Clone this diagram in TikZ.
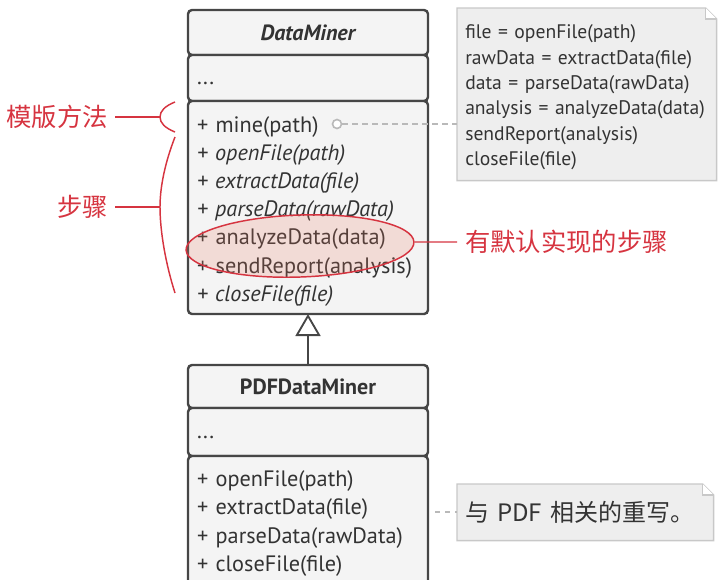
\documentclass[tikz,border=0pt]{standalone}
\usepackage{fontspec}
\setmainfont{PT Sans}
\newfontfamily\cjk{Noto Sans CJK SC}
\usetikzlibrary{positioning,calc,shapes.geometric,arrows.meta,backgrounds}
\definecolor{boxfill}{RGB}{244,244,244}
\definecolor{boxline}{RGB}{70,70,70}
\definecolor{txt}{RGB}{51,51,51}
\definecolor{notefill}{RGB}{238,238,238}
\definecolor{noteline}{RGB}{200,200,200}
\definecolor{linkgray}{RGB}{185,185,185}
\definecolor{annot}{RGB}{214,52,64}
\definecolor{hilitefill}{RGB}{235,120,95}
\tikzset{
  section/.style={draw=boxline, fill=boxfill, line width=1.8pt, rounded corners=3pt,
    minimum width=180pt, text=txt, inner xsep=6.75pt, inner ysep=0pt, outer sep=0pt},
  headsec/.style={section, font=\fontsize{16.5}{18}\selectfont\bfseries},
  listsec/.style={section, text width=166.5pt, align=left, font=\fontsize{16.7}{21.15}\selectfont},
  notebox/.style={fill=notefill, draw=noteline, line width=1.1pt},
  notetext/.style={text=txt, inner xsep=6pt, inner ysep=0pt, anchor=north west, align=left},
  notelink/.style={draw=linkgray, line width=1.2pt, dash pattern=on 4pt off 3.5pt},
  inherit/.style={draw=boxline, line width=1.4pt, -{Triangle[open, width=18.75pt, length=16.5pt]}},
  annotlabel/.style={text=annot, font=\fontsize{19}{21}\cjk, inner ysep=0pt, inner xsep=5.25pt},
  annotline/.style={draw=annot, line width=1.1pt},
  hilite/.style={ellipse, draw=annot, fill=hilitefill, fill opacity=0.2, draw opacity=1, line width=1.1pt, inner sep=0pt}
}
\newcommand{\attrdots}{\raisebox{-5pt}[0pt][0pt]{...}}

\begin{document}
\begin{tikzpicture}[x=0.75pt, y=-0.75pt]
    \path[use as bounding box, clip] (0,0) rectangle (723,579);

    % DATAMINER
    \node[headsec, minimum height=33.75pt] (dmHead) at (308,32.5) {\itshape DataMiner};
    \node[listsec, below=0pt of dmHead, minimum height=34.5pt] (dmAttr) {\attrdots};
    \node[listsec, below=0pt of dmAttr, minimum height=159.75pt] (dmMethods) {\rule{0pt}{17.5pt}+ mine(path)\\
      \textit{+ openFile(path)}\\
      \textit{+ extractData(file)}\\
      \textit{+ parseData(rawData)}\\
      + analyzeData(data)\\
      + sendReport(analysis)\\
      \textit{+ closeFile(file)}};

    % PDFDATAMINER
    \node[headsec, minimum height=32.25pt] (pdfHead) at (308,386.5) {PDFDataMiner};
    \node[listsec, below=0pt of pdfHead, minimum height=36pt] (pdfAttr) {\attrdots};
    \node[listsec, below=0pt of pdfAttr, minimum height=101.25pt] (pdfMethods) {+ openFile(path)\\
      + extractData(file)\\
      + parseData(rawData)\\
      + closeFile(file)};
    \draw[inherit] (pdfHead) -- (dmMethods);

    % NOTES
    \node[notetext, minimum width=194.25pt, minimum height=129pt, text width=182.25pt,
      font=\fontsize{14.7}{19.05}\selectfont] (dmNote) at (457,8) {\rule{0pt}{15pt}file = openFile(path)\\
      rawData = extractData(file)\\
      data = parseData(rawData)\\
      analysis = analyzeData(data)\\
      sendReport(analysis)\\
      closeFile(file)};
    \node[notetext, minimum width=192pt, minimum height=42pt, text width=180pt,
      font=\fontsize{18}{20}\cjk] (pdfNote) at (457,484) {与 PDF 相关的重写。};
    \begin{scope}[on background layer]
      \foreach \n in {dmNote, pdfNote} {
        \path[notebox] (\n.north west) -- ($(\n.north east)+(-11,0)$) -- ($(\n.north east)+(0,11)$)
          -- (\n.south east) -- (\n.south west) -- cycle;
        \path[notebox, fill=white] ($(\n.north east)+(-11,0)$) -- ($(\n.north east)+(-11,11)$)
          -- ($(\n.north east)+(0,11)$);
      }
    \end{scope}

    \node[circle, draw=linkgray, line width=1.2pt, fill=white, minimum size=6.75pt, inner sep=0pt] (mineDot) at (337,124) {};
    \draw[notelink] (mineDot) -- (mineDot -| dmNote.west);
    \coordinate (pdfLinkEnd) at (435,512);
    \draw[notelink] (pdfLinkEnd) -- (pdfLinkEnd -| pdfNote.west);

    % ANNOTATIONS
    \node[annotlabel, anchor=east] (tplLabel) at (115,117) {模版方法};
    \coordinate (tplTip) at (160,117);
    \draw[annotline] (tplLabel.east) -- (tplTip);
    \draw[annotline] (175,102) .. controls (165,106) and (160,111) .. (tplTip)
      .. controls (160,123) and (165,128) .. (175,132);

    \node[annotlabel, anchor=east] (stepLabel) at (115,207) {步骤};
    \coordinate (stepTip) at (160,207);
    \draw[annotline] (stepLabel.east) -- (stepTip);
    \draw[annotline] (175,137) .. controls (166,160) and (160,185) .. (stepTip)
      .. controls (160,232) and (166,265) .. (175,293);

    \node[hilite, minimum width=171pt, minimum height=46.5pt, rotate=2] (defaultHl) at (300,246) {};
    \node[annotlabel, anchor=west, inner xsep=6pt] (defLabel) at (457,242) {有默认实现的步骤};
    \draw[annotline] (defaultHl.east) -- (defLabel.west);

\end{tikzpicture}
\end{document}
